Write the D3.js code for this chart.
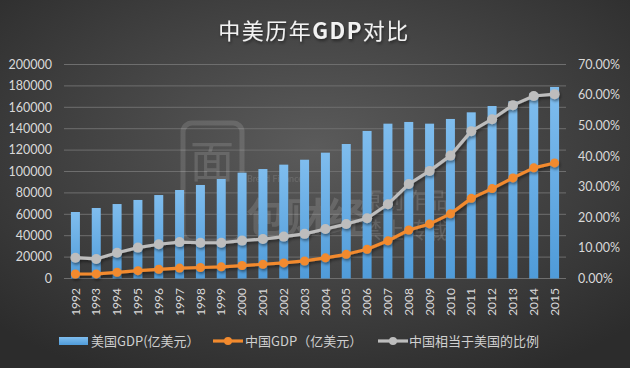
<!DOCTYPE html>
<html>
<head>
<meta charset="utf-8">
<script src="https://cdn.jsdelivr.net/npm/d3@7"></script>
<style>
  html, body { margin: 0; padding: 0; background: #3a3a3a; }
  svg { display: block; }
</style>
</head>
<body>
<div id="vis"></div>
<script>
const width = 630;
const height = 368;

// Data
const years = ["1992","1993","1994","1995","1996","1997","1998","1999","2000","2001","2002","2003",
               "2004","2005","2006","2007","2008","2009","2010","2011","2012","2013","2014","2015"];
const usGdp = [62150, 65900, 69600, 73400, 78000, 82700, 87400, 93000, 98900, 102300, 106400, 111000,
               117600, 125700, 137900, 144700, 146300, 144700, 149100, 155300, 161200, 165600, 173100, 179000];
const cnGdp = [4200, 4300, 5800, 7300, 8600, 9700, 10300, 10900, 12100, 13300, 14600, 16400,
               19300, 22600, 27300, 35200, 45300, 51000, 60400, 74900, 84000, 94000, 103400, 108000];
const ratio = [0.068, 0.064, 0.084, 0.101, 0.112, 0.119, 0.117, 0.117, 0.124, 0.129, 0.137, 0.146,
               0.162, 0.178, 0.197, 0.243, 0.309, 0.352, 0.402, 0.482, 0.521, 0.567, 0.597, 0.603];
const leftTicks = [0, 20000, 40000, 60000, 80000, 100000, 120000, 140000, 160000, 180000, 200000];
const rightTicks = [0, 0.1, 0.2, 0.3, 0.4, 0.5, 0.6, 0.7];

const svg = d3.select("#vis").append("svg")
    .attr("width", width)
    .attr("height", height);

const defs = svg.append("defs");

const bg = defs.append("radialGradient").attr("id", "bg")
    .attr("cx", "50%").attr("cy", "40%").attr("r", "70%");
bg.append("stop").attr("offset", "0%").attr("stop-color", "#5b5b5b");
bg.append("stop").attr("offset", "100%").attr("stop-color", "#2c2c2c");

const barGrad = defs.append("linearGradient").attr("id", "barGrad")
    .attr("x1", 0).attr("y1", 0).attr("x2", 0).attr("y2", 1);
barGrad.append("stop").attr("offset", "0%").attr("stop-color", "#7fbdee");
barGrad.append("stop").attr("offset", "100%").attr("stop-color", "#4f9bd9");

const shadow = defs.append("filter").attr("id", "shadow")
    .attr("x", "-20%").attr("y", "-20%").attr("width", "140%").attr("height", "140%");
shadow.append("feDropShadow").attr("dx", 1).attr("dy", 2).attr("stdDeviation", 1.5)
    .attr("flood-color", "#000").attr("flood-opacity", 0.45);

svg.append("rect").attr("width", width).attr("height", height).attr("fill", "url(#bg)");

// Title
svg.append("text")
    .attr("x", 314).attr("y", 39)
    .attr("text-anchor", "middle")
    .attr("fill", "#f2f2f2")
    .attr("font-family", "'Noto Sans CJK SC', 'Noto Sans', sans-serif")
    .attr("font-size", 22)
    .attr("letter-spacing", 1.5)
    .attr("filter", "url(#shadow)")
    .html('中美历年<tspan font-weight="bold">GDP</tspan>对比');

// Scales
const x = d3.scaleBand().domain(years).range([65, 565]);
const yLeft = d3.scaleLinear().domain([0, 200000]).range([278.5, 64.5]);
const yRight = d3.scaleLinear().domain([0, 0.7]).range([278.5, 64.5]);

// Gridlines
svg.append("g")
    .selectAll("line")
    .data(leftTicks)
    .enter().append("line")
    .attr("x1", 64).attr("x2", 566)
    .attr("y1", d => yLeft(d)).attr("y2", d => yLeft(d))
    .attr("stroke", "#6e6e6e")
    .attr("stroke-width", 1);

// Watermark
const wm = svg.append("g").attr("opacity", 0.13).attr("fill", "#ffffff")
    .attr("font-family", "'Noto Sans CJK SC', sans-serif");
wm.append("rect").attr("x", 183).attr("y", 123).attr("width", 59).attr("height", 118).attr("rx", 9)
    .attr("fill", "none").attr("stroke", "#ffffff").attr("stroke-width", 5);
wm.append("text").attr("x", 212).attr("y", 178).attr("text-anchor", "middle").attr("font-size", 44).text("面");
wm.append("text").attr("x", 247).attr("y", 182).attr("font-family", "Lato, sans-serif").attr("font-size", 9).text("Bread Finance");
wm.append("text").attr("x", 246).attr("y", 232).attr("font-size", 40).attr("font-weight", "bold").text("包财经");
wm.append("text").attr("x", 360).attr("y", 208).attr("font-size", 22).text("原创作品");
wm.append("text").attr("x", 360).attr("y", 238).attr("font-size", 22).text("禁止转载");

// Bars
const barW = 9;
svg.append("g")
    .selectAll("rect")
    .data(years)
    .enter().append("rect")
    .attr("x", d => x(d) + x.bandwidth() / 2 - barW / 2)
    .attr("y", (d, i) => yLeft(usGdp[i]))
    .attr("width", barW)
    .attr("height", (d, i) => yLeft(0) - yLeft(usGdp[i]))
    .attr("fill", "url(#barGrad)");

const cx = d => x(d) + x.bandwidth() / 2;

// Line series
function drawSeries(values, scale, color, r) {
    const g = svg.append("g").attr("filter", "url(#shadow)");
    const line = d3.line()
        .x((d, i) => cx(years[i]))
        .y(d => scale(d));
    g.append("path")
        .datum(values)
        .attr("d", line)
        .attr("fill", "none")
        .attr("stroke", color)
        .attr("stroke-width", 3.2)
        .attr("stroke-linejoin", "round");
    g.selectAll("circle")
        .data(values)
        .enter().append("circle")
        .attr("cx", (d, i) => cx(years[i]))
        .attr("cy", d => scale(d))
        .attr("r", r)
        .attr("fill", color);
}
drawSeries(cnGdp, yLeft, "#f28a2e", 4.5);
drawSeries(ratio, yRight, "#bdbdbd", 5);

// Axes labels
const labelFont = "Lato, 'Liberation Sans', sans-serif";
svg.append("g")
    .selectAll("text")
    .data(leftTicks)
    .enter().append("text")
    .attr("x", 52).attr("y", d => yLeft(d))
    .attr("dy", "0.35em")
    .attr("text-anchor", "end")
    .attr("fill", "#d9d9d9")
    .attr("font-family", labelFont)
    .attr("font-size", 12.5)
    .text(d => d);

svg.append("g")
    .selectAll("text")
    .data(rightTicks)
    .enter().append("text")
    .attr("x", 578).attr("y", d => yRight(d))
    .attr("dy", "0.35em")
    .attr("fill", "#d9d9d9")
    .attr("font-family", labelFont)
    .attr("font-size", 12.5)
    .text(d => d3.format(".2%")(d));

svg.append("g")
    .selectAll("text")
    .data(years)
    .enter().append("text")
    .attr("transform", d => `translate(${cx(d)},288) rotate(-90)`)
    .attr("dy", "0.35em")
    .attr("text-anchor", "end")
    .attr("fill", "#d9d9d9")
    .attr("font-family", labelFont)
    .attr("font-size", 12)
    .text(d => d);

// Legend
const legendFont = "'Noto Sans CJK SC', sans-serif";
const legend = svg.append("g").attr("font-family", legendFont).attr("font-size", 13).attr("fill", "#d0d0d0");
legend.append("rect").attr("x", 59).attr("y", 337).attr("width", 29).attr("height", 8).attr("fill", "url(#barGrad)");
legend.append("text").attr("x", 91).attr("y", 341).attr("dy", "0.35em").text("美国GDP(亿美元）");

legend.append("line").attr("x1", 213).attr("x2", 243).attr("y1", 341).attr("y2", 341)
    .attr("stroke", "#f28a2e").attr("stroke-width", 3.2);
legend.append("circle").attr("cx", 228).attr("cy", 341).attr("r", 4).attr("fill", "#f28a2e");
legend.append("text").attr("x", 245).attr("y", 341).attr("dy", "0.35em").text("中国GDP（亿美元）");

legend.append("line").attr("x1", 378).attr("x2", 408).attr("y1", 341).attr("y2", 341)
    .attr("stroke", "#bdbdbd").attr("stroke-width", 3.2);
legend.append("circle").attr("cx", 393).attr("cy", 341).attr("r", 4).attr("fill", "#bdbdbd");
legend.append("text").attr("x", 409).attr("y", 341).attr("dy", "0.35em").text("中国相当于美国的比例");
</script>
</body>
</html>
